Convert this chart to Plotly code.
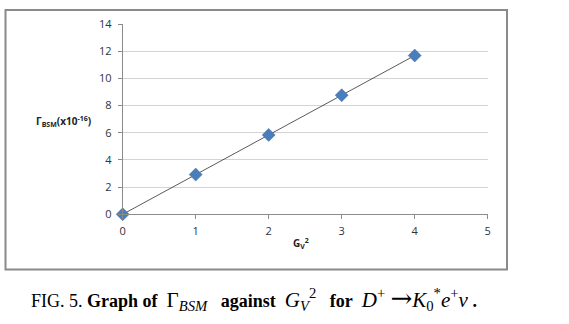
import plotly.graph_objects as go

# Decay width versus squared vector coupling
gv2 = [0, 1, 2, 3, 4]
gamma_bsm = [0.0, 2.92, 5.84, 8.76, 11.68]
x_ticks = [0, 1, 2, 3, 4, 5]
y_ticks = [0, 2, 4, 6, 8, 10, 12, 14]

W, H = 569, 324

fig = go.Figure()

# linear trend line through the points
fig.add_trace(go.Scatter(
    x=[gv2[0], gv2[-1]], y=[gamma_bsm[0], gamma_bsm[-1]],
    mode="lines", line=dict(color="#303030", width=0.8),
    hoverinfo="skip", showlegend=False, cliponaxis=False,
))
fig.add_trace(go.Scatter(
    x=gv2, y=gamma_bsm, mode="markers",
    marker=dict(symbol="diamond", size=10, color="#4a7ebb",
                line=dict(color="#3f6fa8", width=0.5)),
    showlegend=False, cliponaxis=False,
))

def px_x(p):
    return p / W

def px_y(p):
    return 1 - p / H

tick_font = dict(family="Open Sans, Liberation Sans, sans-serif", size=11, color="#333333")

def math(s, size=21):
    return f'<span style="font-size:{size}px">{s}</span>'

caption = (
    "FIG. 5. <b>Graph of</b>&nbsp;&nbsp;"
    + math("Γ<sub><i>BSM</i></sub>")
    + "&nbsp;&nbsp; <b>against</b> &nbsp;"
    + math("<i>G</i><sub><i>V</i></sub><sup>2</sup>")
    + "&nbsp;&nbsp; <b>for</b> &nbsp;"
    + math("<i>D</i><sup>+</sup>&nbsp;")
    + '<span style="font-family:DejaVu Serif;font-size:26px">→</span>'
    + math("<i>K</i><sub>0</sub><sup>*</sup><i>e</i><sup>+</sup><i>ν</i>")
    + " <b>.</b>"
)

fig.update_layout(
    width=W, height=H,
    margin=dict(l=0, r=0, t=0, b=0, autoexpand=False),
    paper_bgcolor="white", plot_bgcolor="white",
    xaxis=dict(
        domain=[px_x(122.7), px_x(487.7)], automargin=False,
        range=[0, 5], tickvals=x_ticks, showgrid=False, zeroline=False,
        showline=True, linecolor="#8c8c8c", linewidth=1,
        ticks="outside", ticklen=4, tickcolor="#8c8c8c",
        ticklabelstandoff=2,
        tickfont=tick_font,
    ),
    yaxis=dict(
        domain=[px_y(214.3), px_y(24)], automargin=False,
        range=[0, 14], tickvals=y_ticks, showgrid=True, gridcolor="#d4d4d4",
        gridwidth=1, zeroline=False,
        showline=True, linecolor="#8c8c8c", linewidth=1,
        ticks="outside", ticklen=4, tickcolor="#8c8c8c",
        ticklabelstandoff=4,
        tickfont=tick_font,
    ),
    shapes=[
        dict(type="rect", xref="paper", yref="paper",
             x0=px_x(5.5), x1=px_x(507), y0=px_y(269.5), y1=px_y(10),
             line=dict(color="#8a8a8a", width=2), fillcolor="rgba(0,0,0,0)"),
    ],
    annotations=[
        dict(xref="paper", yref="paper", x=px_x(64), y=px_y(121),
             text="<b>Γ<sub>BSM</sub>(x10<sup>-16</sup>)</b>", showarrow=False,
             font=dict(family="Open Sans, Liberation Sans, sans-serif", size=10, color="#222222"),
             xanchor="center", yanchor="middle"),
        dict(xref="paper", yref="paper", x=px_x(301), y=px_y(243),
             text="<b>G<sub>V</sub><sup>2</sup></b>", showarrow=False,
             font=dict(family="Open Sans, Liberation Sans, sans-serif", size=10, color="#222222"),
             xanchor="center", yanchor="middle"),
        dict(xref="paper", yref="paper", x=px_x(29), y=px_y(298),
             text=caption, showarrow=False,
             font=dict(family="Liberation Serif, Times New Roman, serif", size=18, color="black"),
             xanchor="left", yanchor="middle"),
    ],
)

fig.write_html("out.html")
